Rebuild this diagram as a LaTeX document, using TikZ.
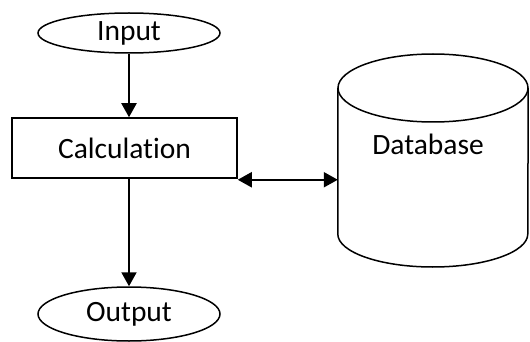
\documentclass[tikz,border=0pt]{standalone}
\usepackage{fontspec}
\setmainfont[Ligatures=NoCommon]{Carlito}
\usetikzlibrary{shapes,arrows.meta,positioning}

\begin{document}
\begin{tikzpicture}[x=1pt, y=1pt, font=\fontsize{29.5}{35}\selectfont,
    flowbox/.style={rectangle, draw=black, line width=1.5pt, minimum width=225pt, minimum height=60pt, inner sep=0pt},
    terminal/.style={ellipse, draw=black, line width=1.5pt, minimum width=182pt, inner sep=0pt},
    flowarrow/.style={-{Triangle[length=14pt, width=15pt]}, line width=2pt}]
        \useasboundingbox (0,0) rectangle (530,-342);
        \node[flowbox] (calc) at (124.5,-148) {Calculation};
        \node[terminal, minimum height=40pt] (input) at (129,-33) {Input};
        \node[terminal, minimum height=54pt] (output) at (129,-314) {Output};
        \node[minimum width=190pt, minimum height=214pt, inner sep=0pt] (db) at (433,-160) {};
        \node (dblabel) at (428,-144) {Database};

        % database cylinder
        \draw[line width=1.5pt] (db.west |- 0,-88) -- (db.west |- 0,-234)
            arc[start angle=180, end angle=360, x radius=95, y radius=33] -- (db.east |- 0,-88);
        \draw[line width=1.5pt] (433,-88) ellipse [x radius=95, y radius=34];

        \draw[flowarrow] (input) -- (input |- calc.north);
        \draw[flowarrow] (calc.south -| output) -- (output);
        \draw[flowarrow, {Triangle[length=14pt, width=15pt]}-{Triangle[length=14pt, width=15pt]}] ([yshift=-1pt]calc.south east) -- ([yshift=-1pt]calc.south east -| db.west);
      \end{tikzpicture}
\end{document}
